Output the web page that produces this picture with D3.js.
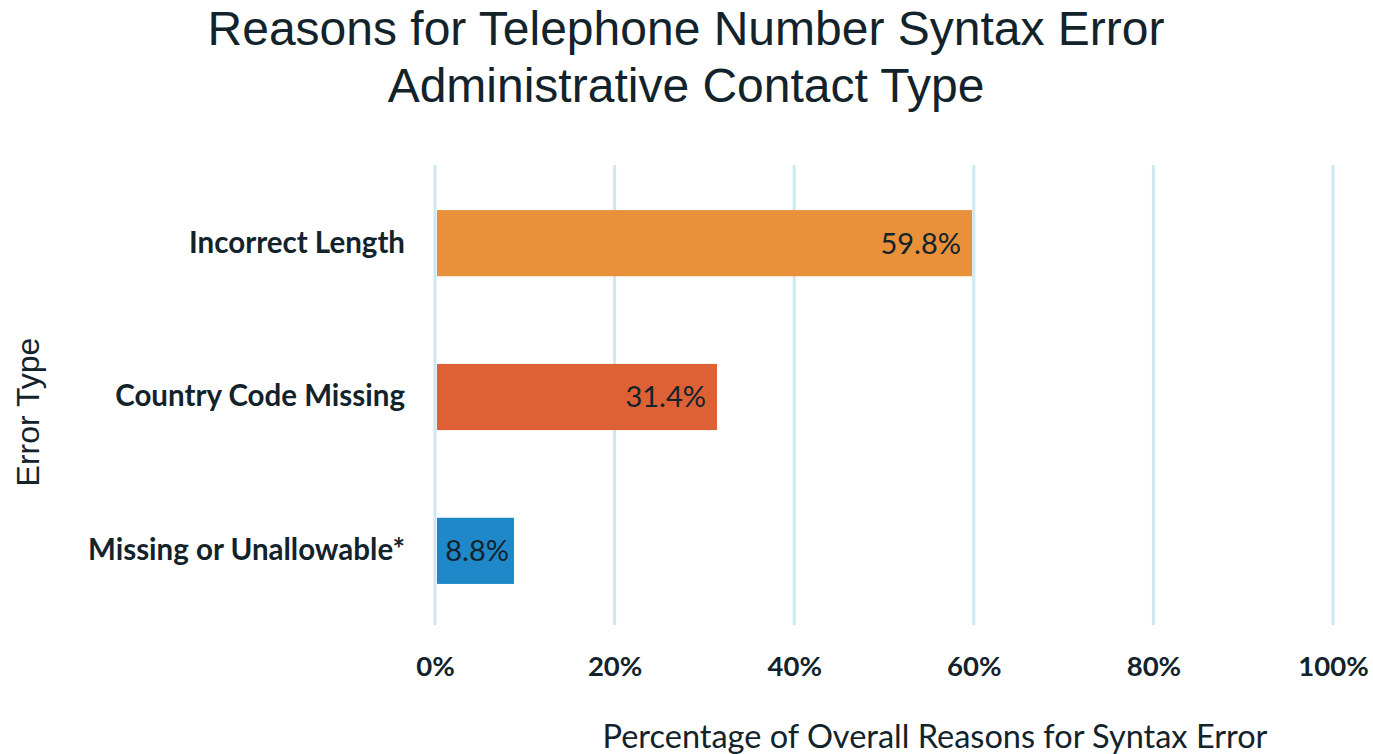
<!DOCTYPE html>
<html>
<head>
<meta charset="utf-8">
<script src="https://cdn.jsdelivr.net/npm/d3@7"></script>
<style>
  html, body { margin: 0; padding: 0; background: #fff; }
  svg { display: block; }
</style>
</head>
<body>
<svg id="chart" width="1373" height="754"></svg>
<script>
// Error categories, top to bottom
const categories = ["Incorrect Length", "Country Code Missing", "Missing or Unallowable*"];
// Share of overall syntax errors (percent)
const values = [59.8, 31.4, 8.8];
const barColors = ["#E8903A", "#DD6135", "#1E88C8"];
const tickValues = [0, 20, 40, 60, 80, 100];
const titleLines = ["Reasons for Telephone Number Syntax Error", "Administrative Contact Type"];

const svg = d3.select("#chart");
const plotLeft = 435, plotRight = 1333, plotTop = 165, plotBottom = 625;
const textColor = "#13232b";

const x = d3.scaleLinear().domain([0, 100]).range([plotLeft, plotRight]);
const y = d3.scaleBand().domain(categories).range([plotTop + 2, plotBottom + 2]).paddingInner(0.57).paddingOuter(0.28);

// Title
svg.append("g").selectAll("text").data(titleLines).join("text")
  .attr("x", 686).attr("y", (d, i) => 45 + i * 57)
  .attr("text-anchor", "middle")
  .attr("font-family", "'Liberation Sans', Arial, sans-serif")
  .attr("font-size", 48).attr("fill", textColor)
  .text(d => d);

// Vertical gridlines
svg.append("g").selectAll("line").data(tickValues).join("line")
  .attr("x1", d => x(d)).attr("x2", d => x(d))
  .attr("y1", plotTop).attr("y2", plotBottom)
  .attr("stroke", "#cde8f0").attr("stroke-width", 3);

// Bars
svg.append("g").selectAll("rect").data(categories).join("rect")
  .attr("x", x(0) + 2)
  .attr("y", d => y(d))
  .attr("width", (d, i) => x(values[i]) - x(0) - 2)
  .attr("height", y.bandwidth())
  .attr("fill", (d, i) => barColors[i]);

// Value labels inside bar ends
svg.append("g").selectAll("text").data(categories).join("text")
  .attr("x", (d, i) => x(values[i]) - (i === 2 ? 5 : 11))
  .attr("y", d => y(d) + y.bandwidth() / 2)
  .attr("dy", "0.36em")
  .attr("text-anchor", "end")
  .attr("font-family", "Lato, 'Open Sans', sans-serif")
  .attr("font-size", 29).attr("fill", textColor)
  .text((d, i) => values[i].toFixed(1) + "%");

// Category axis
const yAxis = svg.append("g")
  .attr("transform", `translate(${plotLeft - 30},0)`)
  .call(d3.axisLeft(y).tickSize(0).tickPadding(0));
yAxis.select(".domain").remove();
yAxis.selectAll("text")
  .attr("font-family", "Lato, 'Open Sans', sans-serif")
  .attr("font-weight", "bold").attr("font-size", 29.5).attr("fill", textColor);

// Percentage axis
const xAxis = svg.append("g")
  .attr("transform", `translate(0,${plotBottom})`)
  .call(d3.axisBottom(x).tickValues(tickValues).tickFormat(d => d + "%").tickSize(0).tickPadding(31));
xAxis.select(".domain").remove();
xAxis.selectAll("text")
  .attr("font-family", "Lato, 'Open Sans', sans-serif")
  .attr("font-weight", "bold").attr("font-size", 27.5).attr("fill", textColor);

// Axis titles
svg.append("text")
  .attr("x", 935).attr("y", 748)
  .attr("text-anchor", "middle")
  .attr("font-family", "Lato, 'Open Sans', sans-serif")
  .attr("font-size", 32.5).attr("fill", textColor)
  .text("Percentage of Overall Reasons for Syntax Error");

svg.append("text")
  .attr("transform", "translate(39,412) rotate(-90)")
  .attr("text-anchor", "middle")
  .attr("font-family", "'Liberation Sans', Arial, sans-serif")
  .attr("font-size", 32).attr("fill", textColor)
  .text("Error Type");
</script>
</body>
</html>
